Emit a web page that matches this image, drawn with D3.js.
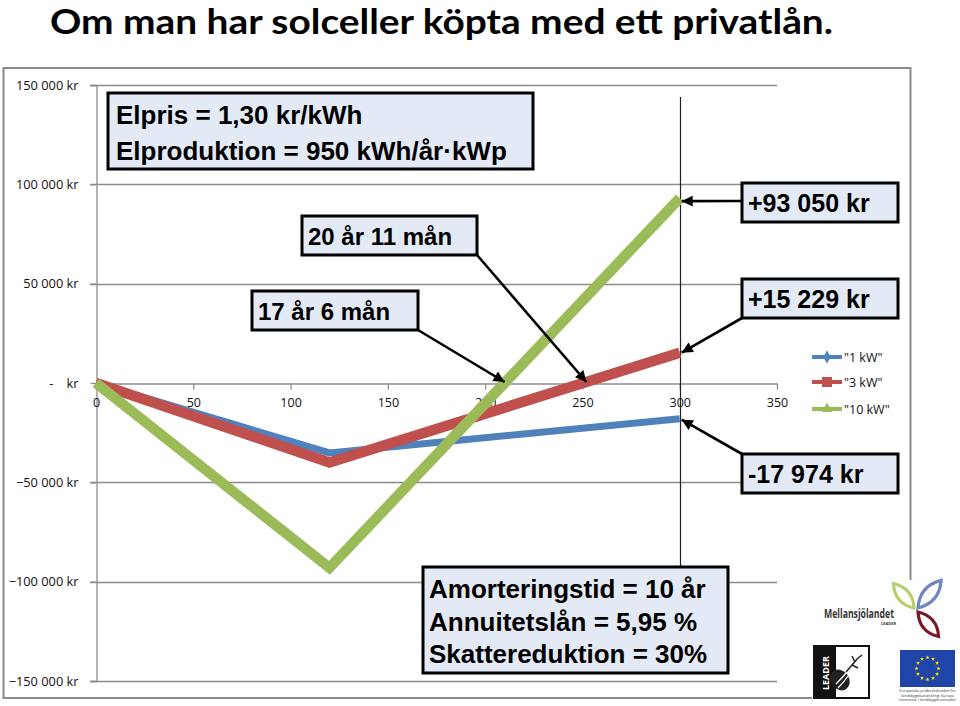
<!DOCTYPE html>
<html><head><meta charset="utf-8">
<script src="https://cdn.jsdelivr.net/npm/d3@7/dist/d3.min.js"></script>
<style>
html,body{margin:0;padding:0;background:#fff;}
svg{display:block;}
</style></head>
<body>
<script>
// ---------------- data ----------------
const titleText = "Om man har solceller köpta med ett privatlån.";
const months = [0, 120, 300];
const series1kW = [0, -35200, -17974];
const series3kW = [0, -40000, 15229];
const series10kW = [0, -93000, 93050];
const seriesNames = ['"1 kW"', '"3 kW"', '"10 kW"'];
const yTicks = [150000, 100000, 50000, 0, -50000, -100000, -150000];
const xTicks = [0, 50, 100, 150, 200, 250, 300, 350];
const paramTop = ["Elpris = 1,30 kr/kWh", "Elproduktion = 950 kWh/år·kWp"];
const paramBottom = ["Amorteringstid = 10 år", "Annuitetslån = 5,95 %", "Skattereduktion = 30%"];
const breakEvenLabels = ["17 år 6 mån", "20 år 11 mån"];
const breakEvenMonths = [210, 251];
const endLabels = ["+93 050 kr", "+15 229 kr", "-17 974 kr"];

// ---------------- layout ----------------
const W = 960, H = 706;
const svg = d3.select("body").append("svg").attr("width", W).attr("height", H);
const x = d3.scaleLinear().domain([0, 350]).range([96, 777]);
const y = d3.scaleLinear().domain([-150000, 150000]).range([681, 85]);
const colors = ["#4F81BD", "#C0504D", "#9BBB59"];
const widths = [7, 10.5, 10.5];

// title
svg.append("text").attr("x", 50).attr("y", 34)
  .attr("font-family", "Lato, 'Open Sans', sans-serif").attr("font-weight", 700)
  .attr("font-size", 34).attr("textLength", 783).attr("lengthAdjust", "spacingAndGlyphs")
  .attr("fill", "#000").text(titleText);

// chart outer border
svg.append("rect").attr("x", 3.5).attr("y", 68).attr("width", 907).attr("height", 630)
  .attr("fill", "#fff").attr("stroke", "#8a8a8a").attr("stroke-width", 2);

// gridlines
svg.append("g").selectAll("line").data(yTicks.filter(d => d !== 0)).join("line")
  .attr("x1", 90).attr("x2", 777).attr("y1", d => Math.round(y(d)) + 0.5).attr("y2", d => Math.round(y(d)) + 0.5)
  .attr("stroke", "#8c8c8c").attr("stroke-width", 1.3);

// y axis
const yAxis = svg.append("g").attr("transform", "translate(96.5,0)")
  .call(d3.axisLeft(y).tickValues(yTicks).tickSize(6).tickPadding(10)
    .tickFormat(d => d === 0 ? "-    kr" : d3.format(",")(d).replace(/,/g, " ") + " kr"));
yAxis.select(".domain").attr("stroke", "#8c8c8c").attr("stroke-width", 1.3);
yAxis.selectAll(".tick line").attr("stroke", "#8c8c8c").attr("stroke-width", 1.3);
yAxis.selectAll(".tick text").attr("font-family", "'Open Sans', sans-serif").attr("font-size", 12.8)
  .attr("fill", "#111").style("white-space", "pre").attr("dx", -2);

// x axis at zero
const xAxis = svg.append("g").attr("transform", `translate(0,${Math.round(y(0)) + 0.5})`)
  .call(d3.axisBottom(x).tickValues(xTicks).tickSize(6).tickPadding(9).tickSizeOuter(0));
xAxis.select(".domain").attr("stroke", "#8c8c8c").attr("stroke-width", 1.3);
xAxis.selectAll(".tick line").attr("stroke", "#8c8c8c").attr("stroke-width", 1.3);
xAxis.selectAll(".tick text").attr("font-family", "'Open Sans', sans-serif").attr("font-size", 12.5).attr("fill", "#111");

// vertical marker line at 300
svg.append("line").attr("x1", Math.round(x(300)) + 0.5).attr("x2", Math.round(x(300)) + 0.5)
  .attr("y1", 97).attr("y2", 567).attr("stroke", "#222").attr("stroke-width", 1.2);

// series lines
const allSeries = [series1kW, series3kW, series10kW];
const line = d3.line().x((d, i) => x(months[i])).y(d => y(d));
svg.append("g").selectAll("path").data(allSeries).join("path")
  .attr("d", d => line(d)).attr("fill", "none")
  .attr("stroke", (d, i) => colors[i]).attr("stroke-width", (d, i) => widths[i])
  .attr("stroke-linejoin", "miter").attr("stroke-linecap", "butt");

// legend
const lg = svg.append("g");
const legY = [357, 382, 409];
seriesNames.forEach((name, i) => {
  const g = lg.append("g").attr("transform", `translate(812,${legY[i]})`);
  g.append("line").attr("x1", 0).attr("x2", 30).attr("stroke", colors[i]).attr("stroke-width", 4);
  if (i === 0) g.append("path").attr("d", d3.symbol(d3.symbolDiamond, 50)()).attr("transform", "translate(15,0)").attr("fill", colors[i]);
  if (i === 1) g.append("rect").attr("x", 10).attr("y", -5).attr("width", 10).attr("height", 10).attr("fill", colors[i]);
  if (i === 2) g.append("path").attr("d", d3.symbol(d3.symbolTriangle, 50)()).attr("transform", "translate(15,0)").attr("fill", colors[i]);
  g.append("text").attr("x", 32).attr("y", 4.5).attr("font-family", "'Open Sans', sans-serif")
    .attr("font-size", 12.5).attr("fill", "#111").text(name);
});

// arrow marker
svg.append("defs").append("marker").attr("id", "ah").attr("viewBox", "0 0 10 10")
  .attr("refX", 10).attr("refY", 5).attr("markerWidth", 13).attr("markerHeight", 11)
  .attr("markerUnits", "userSpaceOnUse").attr("orient", "auto")
  .append("path").attr("d", "M0,0 L10,5 L0,10 z").attr("fill", "#000");

function arrow(x1, y1, x2, y2) {
  svg.append("line").attr("x1", x1).attr("y1", y1).attr("x2", x2).attr("y2", y2)
    .attr("stroke", "#000").attr("stroke-width", 2.6).attr("marker-end", "url(#ah)");
}
// arrows to end values
arrow(742, 201, x(300) + 2, y(series10kW[2]) + 3);
arrow(742, 318, x(300) + 2, y(series3kW[2]));
arrow(742, 454, x(300) + 2, y(series1kW[2]) + 1);
// arrows to break-even points
arrow(418, 330, x(breakEvenMonths[0]), y(0) - 1);
arrow(477, 255, x(breakEvenMonths[1]) + 2, y(0) - 1);

// annotation boxes
function box(bx, by, bw, bh, lines, tx, baselines, fs) {
  const g = svg.append("g");
  g.append("rect").attr("x", bx).attr("y", by).attr("width", bw).attr("height", bh)
    .attr("fill", "#e3eaf5").attr("stroke", "#000").attr("stroke-width", 3);
  lines.forEach((t, i) => {
    g.append("text").attr("x", tx).attr("y", baselines[i])
      .attr("font-family", "'Liberation Sans', Arial, sans-serif").attr("font-weight", 700)
      .attr("font-size", fs).attr("fill", "#000").text(t);
  });
}
box(108, 93, 425, 76, paramTop, 116, [124, 160], 26);
box(302, 216, 175, 39, [breakEvenLabels[1]], 308, [245], 24);
box(252, 291, 166, 39, [breakEvenLabels[0]], 258, [320], 24);
box(742, 183, 156, 39, [endLabels[0]], 748, [212], 25);
box(742, 279, 156, 39, [endLabels[1]], 748, [308], 25);
box(742, 454, 156, 39, [endLabels[2]], 748, [483], 25);
box(423, 567, 305, 106, paramBottom, 429, [598, 631, 663], 26);

// ---------------- logos ----------------
const lgo = svg.append("g");
lgo.append("rect").attr("x", 812).attr("y", 580).attr("width", 148).attr("height", 126).attr("fill", "#fff");
// leaves
function leaf(cx, cy, len, wid, ang, col) {
  const p = `M0,0 Q${wid},${-len / 2} 0,${-len} Q${-wid},${-len / 2} 0,0 Z`;
  lgo.append("path").attr("d", p).attr("transform", `translate(${cx},${cy}) rotate(${ang})`)
    .attr("fill", "none").attr("stroke", col).attr("stroke-width", 3.2);
}
leaf(914, 608, 32, 12, -40, "#b5cf6b");
leaf(918, 608, 36, 13, 40, "#6f86c1");
leaf(918, 612, 32, 12, 140, "#7a1a26");
lgo.append("text").attr("x", 824).attr("y", 618).attr("font-family", "'Open Sans', sans-serif")
  .attr("font-weight", 700).attr("font-size", 12.5).attr("fill", "#333").attr("textLength", 70)
  .attr("lengthAdjust", "spacingAndGlyphs").text("Mellansjölandet");
lgo.append("text").attr("x", 881).attr("y", 625).attr("font-family", "'Open Sans', sans-serif")
  .attr("font-weight", 700).attr("font-size", 4).attr("fill", "#333").text("LEADER");
// LEADER logo
lgo.append("rect").attr("x", 814).attr("y", 646).attr("width", 55).attr("height", 52).attr("fill", "#fff")
  .attr("stroke", "#111").attr("stroke-width", 2);
lgo.append("rect").attr("x", 814).attr("y", 646).attr("width", 22).attr("height", 52).attr("fill", "#111");
lgo.append("text").attr("transform", "translate(829,690) rotate(-90)").attr("font-family", "'Open Sans', sans-serif")
  .attr("font-weight", 700).attr("font-size", 9).attr("fill", "#fff").text("LEADER");
lgo.append("ellipse").attr("cx", 840).attr("cy", 680).attr("rx", 9).attr("ry", 11)
  .attr("transform", "rotate(-35,840,680)").attr("fill", "#222");
lgo.append("path").attr("d", "M836,684 Q842,678 846,673 M838,688 Q844,682 848,676").attr("stroke", "#fff").attr("stroke-width", 1.3).attr("fill", "none");
lgo.append("path").attr("d", "M846,672 L858,658 M852,665 L858,668 M855,662 L852,656 M858,658 L862,655")
  .attr("stroke", "#222").attr("stroke-width", 1.5).attr("fill", "none");
// EU flag
lgo.append("rect").attr("x", 900).attr("y", 650).attr("width", 55).attr("height", 37).attr("fill", "#1f45a8");
d3.range(12).forEach(i => {
  const a = i / 12 * 2 * Math.PI;
  lgo.append("path").attr("d", d3.symbol(d3.symbolStar, 6)())
    .attr("transform", `translate(${927.5 + 11 * Math.cos(a)},${668.5 + 11 * Math.sin(a)})`).attr("fill", "#ffdd00");
});
["Europeiska jordbruksfonden för", "landsbygdsutveckling: Europa", "investerar i landsbygdsområden"].forEach((t, i) => {
  lgo.append("text").attr("x", 927.5).attr("y", 692 + i * 4.5).attr("text-anchor", "middle")
    .attr("font-family", "'Open Sans', sans-serif").attr("font-size", 3.8).attr("fill", "#333").text(t);
});
</script>
</body></html>
